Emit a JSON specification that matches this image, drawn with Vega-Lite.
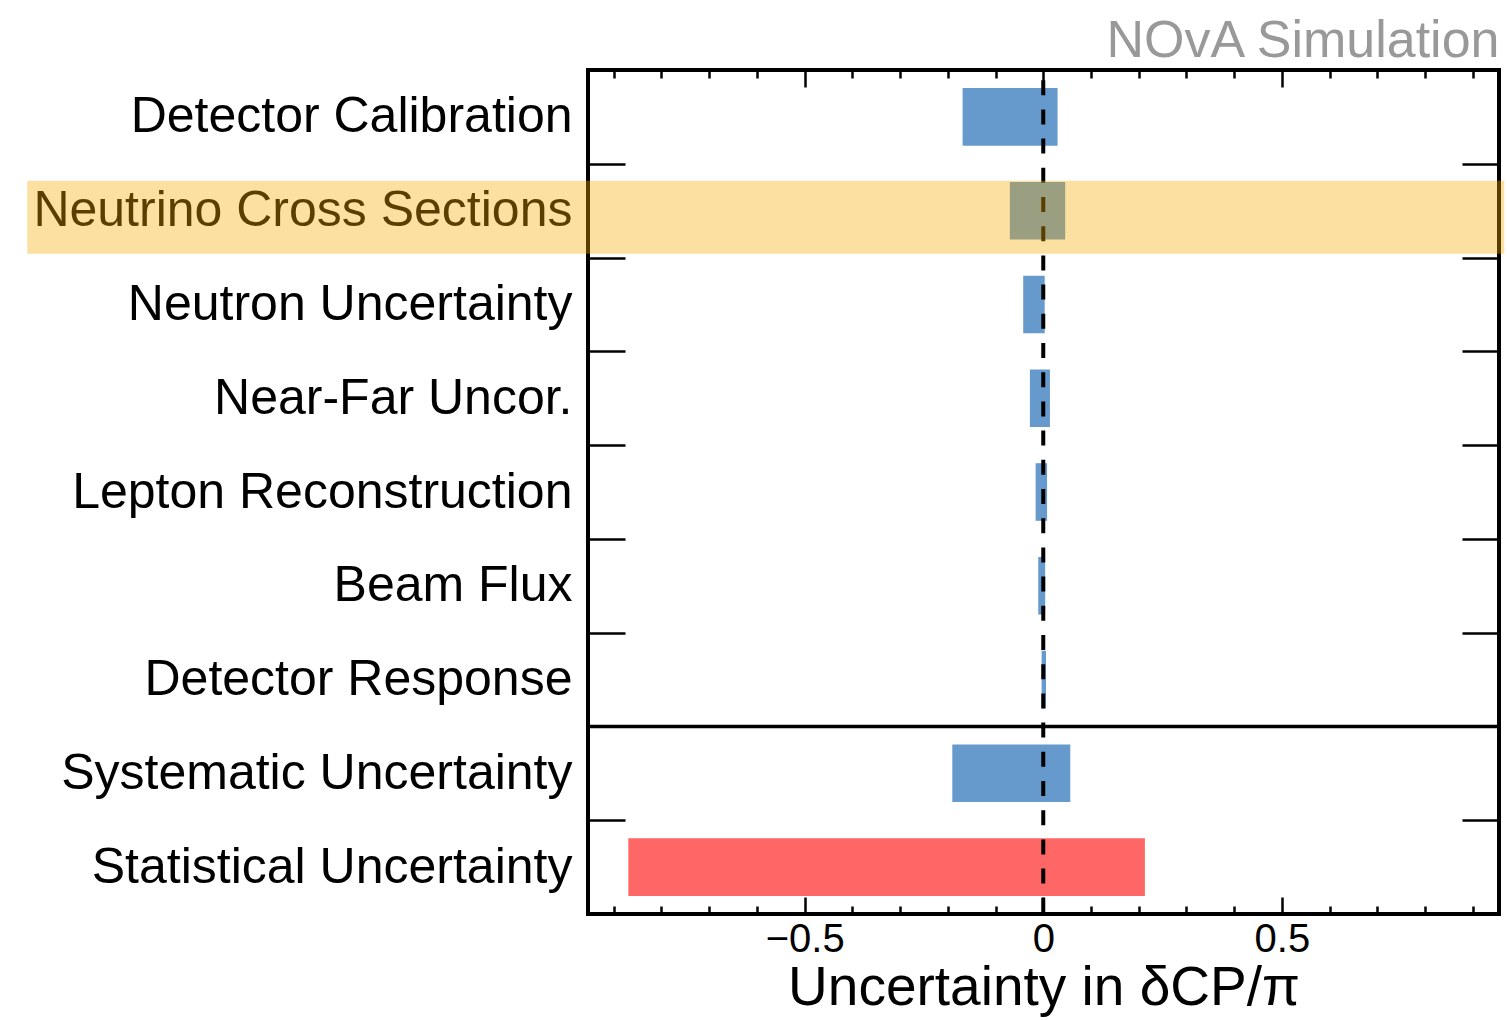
{
  "$schema": "https://vega.github.io/schema/vega-lite/v6.json",
  "autosize": {"type": "none"},
  "padding": {"left": 588, "top": 70, "right": 8, "bottom": 106},
  "width": 911,
  "height": 844,
  "background": "white",
  "config": {
    "font": "Liberation Sans",
    "view": {"stroke": "black", "strokeWidth": 4}
  },
  "datasets": {
    "bars": [
      {"source": "Detector Calibration", "lo": -0.169, "hi": 0.030, "kind": "syst"},
      {"source": "Neutrino Cross Sections", "lo": -0.070, "hi": 0.046, "kind": "syst"},
      {"source": "Neutron Uncertainty", "lo": -0.042, "hi": 0.003, "kind": "syst"},
      {"source": "Near-Far Uncor.", "lo": -0.028, "hi": 0.014, "kind": "syst"},
      {"source": "Lepton Reconstruction", "lo": -0.016, "hi": 0.008, "kind": "syst"},
      {"source": "Beam Flux", "lo": -0.0105, "hi": 0.004, "kind": "syst"},
      {"source": "Detector Response", "lo": -0.0034, "hi": 0.0057, "kind": "syst"},
      {"source": "Systematic Uncertainty", "lo": -0.1906, "hi": 0.0566, "kind": "syst"},
      {"source": "Statistical Uncertainty", "lo": -0.8695, "hi": 0.213, "kind": "stat"}
    ],
    "zero": [{"v": 0}],
    "split": [{"source": "Detector Response"}],
    "highlight": [{"source": "Neutrino Cross Sections", "from": -2.129, "to": 0.966}]
  },
  "resolve": {"axis": {"x": "independent", "y": "independent"}},
  "layer": [
    {
      "data": {"name": "bars"},
      "mark": {"type": "bar", "height": {"band": 0.614}},
      "encoding": {
        "y": {
          "field": "source", "type": "nominal",
          "scale": {"type": "band", "paddingInner": 0, "paddingOuter": 0,
            "domain": ["Detector Calibration", "Neutrino Cross Sections", "Neutron Uncertainty", "Near-Far Uncor.", "Lepton Reconstruction", "Beam Flux", "Detector Response", "Systematic Uncertainty", "Statistical Uncertainty"]},
          "axis": {
            "orient": "left", "title": null, "domain": false, "grid": false,
            "tickBand": "extent", "tickSize": -37, "tickColor": "black", "tickWidth": 2.5,
            "labelFontSize": 50, "labelColor": "black", "labelPadding": 53, "labelLimit": 0,
            "labelFont": "Liberation Sans"
          }
        },
        "x": {
          "field": "lo", "type": "quantitative",
          "scale": {"domain": [-0.954, 0.955], "nice": false, "zero": false},
          "axis": {
            "orient": "bottom", "grid": false, "domain": false,
            "values": [-0.9, -0.8, -0.7, -0.6, -0.5, -0.4, -0.3, -0.2, -0.1, 0, 0.1, 0.2, 0.3, 0.4, 0.5, 0.6, 0.7, 0.8, 0.9],
            "tickColor": "black", "tickWidth": 2.5,
            "tickSize": {"condition": {"test": "abs(datum.value*2 - round(datum.value*2)) < 0.001", "value": -17}, "value": -8},
            "format": "~g",
            "labelExpr": "abs(datum.value*2 - round(datum.value*2)) < 0.001 ? datum.label : ''",
            "labelFontSize": 40, "labelColor": "black", "labelPadding": 22, "labelBaseline": "top",
            "labelOverlap": false, "labelFlush": false, "labelFont": "Liberation Sans",
            "title": "Uncertainty in δCP/π",
            "titleFontSize": 55, "titleFontWeight": "normal", "titleColor": "black",
            "titleFont": "Liberation Sans", "titleBaseline": "alphabetic", "titleY": 90
          }
        },
        "x2": {"field": "hi"},
        "color": {
          "field": "kind", "type": "nominal",
          "scale": {"domain": ["syst", "stat"], "range": ["#6699cc", "#ff6666"]},
          "legend": null
        }
      }
    },
    {
      "data": {"name": "zero"},
      "mark": {"type": "rule", "color": "black", "strokeWidth": 4, "strokeDash": [15, 14.2], "strokeDashOffset": 19},
      "encoding": {
        "x": {
          "field": "v", "type": "quantitative",
          "scale": {"domain": [-0.954, 0.955], "nice": false, "zero": false},
          "axis": {
            "orient": "top", "grid": false, "domain": false, "labels": false,
            "values": [-0.9, -0.8, -0.7, -0.6, -0.5, -0.4, -0.3, -0.2, -0.1, 0, 0.1, 0.2, 0.3, 0.4, 0.5, 0.6, 0.7, 0.8, 0.9],
            "tickColor": "black", "tickWidth": 2.5,
            "tickSize": {"condition": {"test": "abs(datum.value*2 - round(datum.value*2)) < 0.001", "value": -17}, "value": -8},
            "title": "NOvA Simulation",
            "titleFontSize": 52, "titleFontWeight": "normal", "titleColor": "#999999",
            "titleFont": "Liberation Sans", "titleBaseline": "alphabetic",
            "titleAlign": "right", "titleAnchor": "end", "titleX": 911, "titleY": -14
          }
        }
      }
    },
    {
      "data": {"name": "split"},
      "mark": {"type": "rule", "color": "black", "strokeWidth": 3.5},
      "encoding": {
        "y": {
          "field": "source", "type": "nominal", "bandPosition": 1,
          "scale": {"type": "band", "paddingInner": 0, "paddingOuter": 0,
            "domain": ["Detector Calibration", "Neutrino Cross Sections", "Neutron Uncertainty", "Near-Far Uncor.", "Lepton Reconstruction", "Beam Flux", "Detector Response", "Systematic Uncertainty", "Statistical Uncertainty"]},
          "axis": {
            "orient": "right", "title": null, "domain": false, "grid": false, "labels": false,
            "tickBand": "extent", "tickSize": -37, "tickColor": "black", "tickWidth": 2.5
          }
        }
      }
    },
    {
      "data": {"name": "highlight"},
      "mark": {"type": "rule", "color": "#f7aa00", "opacity": 0.365, "strokeWidth": 73, "strokeCap": "butt"},
      "encoding": {
        "y": {
          "field": "source", "type": "nominal", "bandPosition": 0.571,
          "scale": {"type": "band", "paddingInner": 0, "paddingOuter": 0,
            "domain": ["Detector Calibration", "Neutrino Cross Sections", "Neutron Uncertainty", "Near-Far Uncor.", "Lepton Reconstruction", "Beam Flux", "Detector Response", "Systematic Uncertainty", "Statistical Uncertainty"]},
          "axis": null
        },
        "x": {
          "field": "from", "type": "quantitative",
          "scale": {"domain": [-0.954, 0.955], "nice": false, "zero": false},
          "axis": null
        },
        "x2": {"field": "to"}
      }
    }
  ]
}
